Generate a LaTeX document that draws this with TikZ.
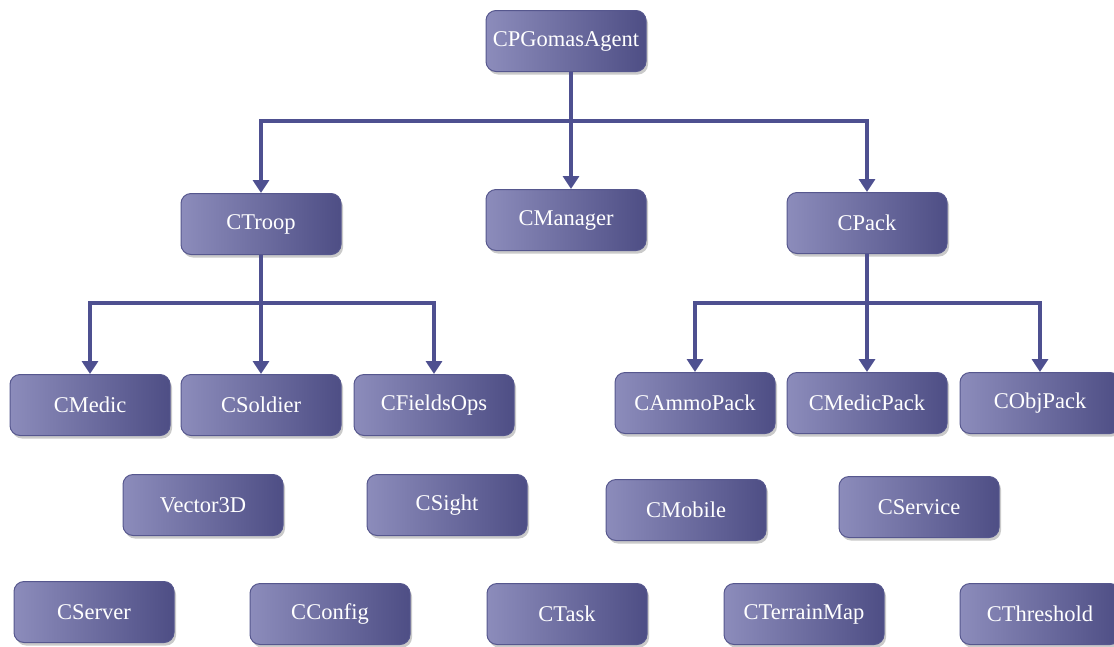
\documentclass[tikz,border=0pt]{standalone}
\usepackage{fontspec}
\setmainfont{Liberation Serif}
\usetikzlibrary{arrows.meta,shadows}
\definecolor{boxlight}{HTML}{8C8CBB}
\definecolor{boxdark}{HTML}{4E4E85}
\definecolor{boxedge}{HTML}{56578E}
\definecolor{linkcol}{HTML}{4E5090}
\tikzset{
  cls/.style={rectangle, rounded corners=10pt, minimum width=160pt, minimum height=61pt,
    left color=boxlight, right color=boxdark, draw=boxedge, line width=1pt,
    text=white, font=\fontsize{22.5}{26}\selectfont,
    drop shadow={shadow xshift=2pt, shadow yshift=-3pt, opacity=0.35, fill=black!60}},
  conn/.style={draw=linkcol, line width=3.5pt},
  arr/.style={conn, -{Triangle[width=16pt,length=13pt]}},
}
\begin{document}
\begin{tikzpicture}[x=1pt,y=-1pt]
\useasboundingbox (0,0) rectangle (1114,646);
% top level
\node[cls] (agent) at (566,41) {CPGomasAgent};
% second level
\node[cls] (troop) at (261,224) {CTroop};
\node[cls] (manager) at (566,220) {CManager};
\node[cls] (pack) at (867,223) {CPack};
% troop subclasses
\node[cls] (medic) at (90,405) {CMedic};
\node[cls] (soldier) at (261,405) {CSoldier};
\node[cls] (fieldsops) at (434,405) {CFieldsOps};
% pack subclasses
\node[cls] (ammopack) at (695,403) {CAmmoPack};
\node[cls] (medicpack) at (867,403) {CMedicPack};
\node[cls] (objpack) at (1040,403) {CObjPack};
% helper classes
\node[cls] (vector) at (203,505) {Vector3D};
\node[cls] (sight) at (447,505) {CSight};
\node[cls] (mobile) at (686,510) {CMobile};
\node[cls] (service) at (919,507) {CService};
\node[cls] (server) at (94,612) {CServer};
\node[cls] (config) at (330,614) {CConfig};
\node[cls] (task) at (567,614) {CTask};
\node[cls] (terrain) at (804,614) {CTerrainMap};
\node[cls] (threshold) at (1040,614) {CThreshold};
% junctions
\coordinate (j1) at (571,121);
\coordinate (j2) at (261,303);
\coordinate (j3) at (867,303);
% agent hierarchy
\draw[arr] (agent.south -| j1) -- (manager.north -| j1);
\draw[arr] (j1) -| (troop.north);
\draw[arr] (j1) -| (pack.north);
% troop hierarchy
\draw[arr] (troop.south) -- (soldier.north);
\draw[arr] (j2) -| (medic.north);
\draw[arr] (j2) -| (fieldsops.north);
% pack hierarchy
\draw[arr] (pack.south) -- (medicpack.north);
\draw[arr] (j3) -| (ammopack.north);
\draw[arr] (j3) -| (objpack.north);
\end{tikzpicture}
\end{document}
